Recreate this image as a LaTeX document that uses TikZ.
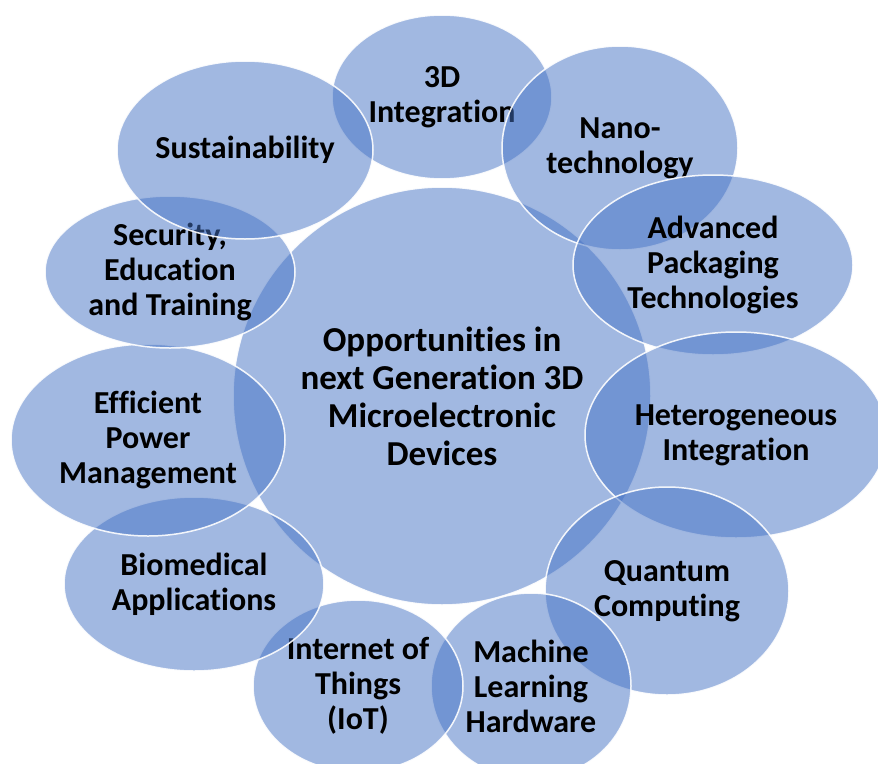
\documentclass[tikz,border=0pt]{standalone}
\usepackage{fontspec}
\setmainfont[Ligatures=NoCommon]{Carlito}
\usepackage{tikz}
\usetikzlibrary{shapes.geometric}
\definecolor{bubblue}{HTML}{4472C4}

\begin{document}
\begin{tikzpicture}[x=1pt, y=-1pt, every text node part/.style={align=center},
    bubble/.style={ellipse, fill=bubblue, fill opacity=.5, text opacity=1, draw=white, draw opacity=.9, line width=1.5pt, inner sep=0pt, font=\bfseries\fontsize{32}{35}\selectfont},
    hub/.style={bubble, font=\bfseries\fontsize{35}{38}\selectfont}]
          \useasboundingbox (0,0) rectangle (878,763);
          \node [hub, minimum width=418pt, minimum height=418pt] at (442,396) (core) {Opportunities in\\ next Generation 3D\\ Microelectronic\\ Devices};
          \node [bubble, minimum width=220pt, minimum height=164pt] at (442,97) (int3d) {3D\\ Integration};
          \node [bubble, minimum width=236pt, minimum height=204pt] at (620,148) (nano) {Nano-\\ technology};
          \node [bubble, minimum width=280pt, minimum height=180pt] at (713,265) (pack) {Advanced\\ Packaging\\ Technologies};
          \node [bubble, minimum width=302pt, minimum height=206pt] at (736,435) (hetero) {Heterogeneous\\ Integration};
          \node [bubble, minimum width=244pt, minimum height=208pt] at (667,591) (quant) {Quantum\\ Computing};
          \node [bubble, minimum width=200pt, minimum height=186pt] at (531,686) (ml) {Machine\\ Learning\\ Hardware};
          \node [bubble, minimum width=210pt, minimum height=172pt] at (358,686) (iot) {Internet of\\ Things\\ (IoT)};
          \node [bubble, minimum width=260pt, minimum height=174pt] at (194,584) (bio) {Biomedical\\ Applications};
          \node [bubble, minimum width=274pt, minimum height=192pt] at (148,440) (power) {Efficient\\ Power\\ Management};
          \node [bubble, minimum width=250pt, minimum height=152pt] at (170,272) (sec) {Security,\\ Education\\ and Training};
          \node [bubble, minimum width=256pt, minimum height=178pt] at (245,150) (sust) {Sustainability};
\end{tikzpicture}
\end{document}
